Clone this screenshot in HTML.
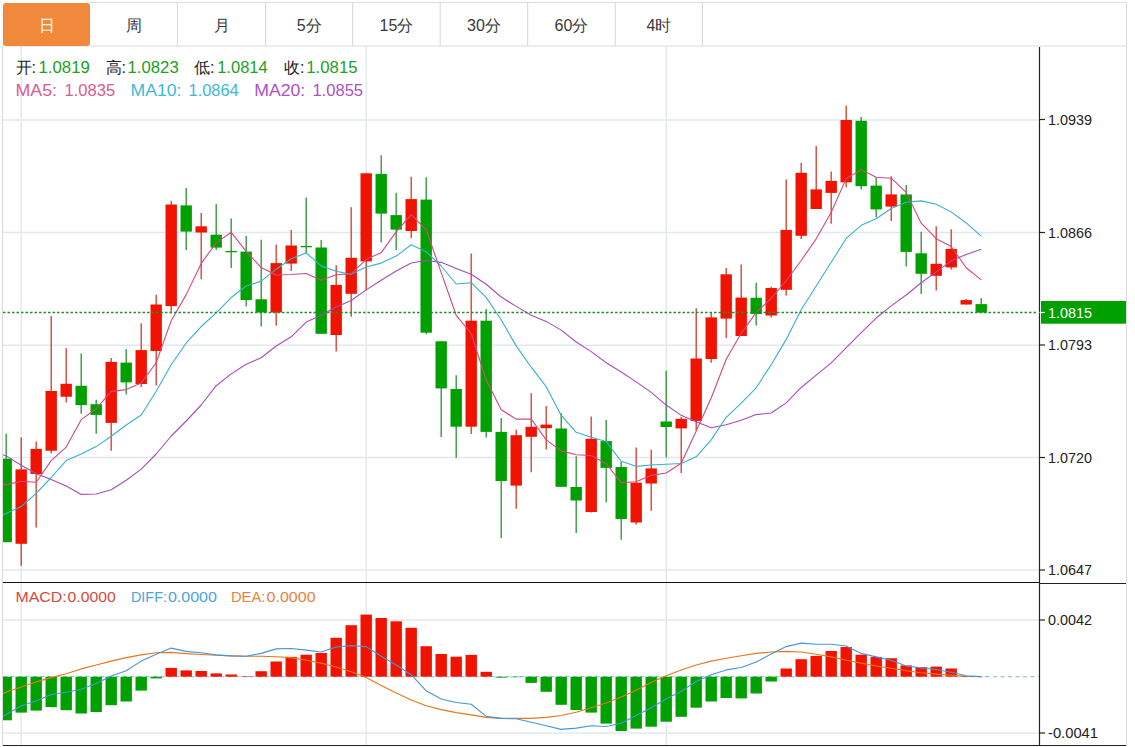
<!DOCTYPE html>
<html><head><meta charset="utf-8">
<style>
html,body{margin:0;padding:0;background:#fff;width:1135px;height:747px;overflow:hidden;}
svg{position:absolute;left:0;top:0;}
text{font-family:"Liberation Sans",sans-serif;}
.ax{font-size:14.5px;fill:#222;}
.tab{font-size:16px;text-anchor:middle;}
.lg{font-size:15px;}
</style></head><body>
<svg width="1135" height="747" viewBox="0 0 1135 747">
<rect x="0" y="0" width="1135" height="747" fill="#fff"/>
<line x1="90" y1="2.5" x2="1126.5" y2="2.5" stroke="#dcdcdc" stroke-width="1.2"/>
<line x1="3" y1="46" x2="1126.5" y2="46" stroke="#dcdcdc" stroke-width="1.2"/>
<line x1="2.5" y1="46" x2="2.5" y2="746" stroke="#dcdcdc" stroke-width="1.2"/>
<line x1="1126.5" y1="2.5" x2="1126.5" y2="746" stroke="#dcdcdc" stroke-width="1.2"/>
<rect x="3" y="3" width="87" height="43" rx="3" fill="#f0893c"/><text x="46.5" y="31" class="tab" fill="#fff">日</text><text x="133.75" y="31" class="tab" fill="#3a3a3a">周</text><line x1="177.5" y1="3" x2="177.5" y2="46" stroke="#dcdcdc" stroke-width="1.2"/><text x="221.55" y="31" class="tab" fill="#3a3a3a">月</text><line x1="265.6" y1="3" x2="265.6" y2="46" stroke="#dcdcdc" stroke-width="1.2"/><text x="309.1" y="31" class="tab" fill="#3a3a3a">5分</text><line x1="352.6" y1="3" x2="352.6" y2="46" stroke="#dcdcdc" stroke-width="1.2"/><text x="396.4" y="31" class="tab" fill="#3a3a3a">15分</text><line x1="440.2" y1="3" x2="440.2" y2="46" stroke="#dcdcdc" stroke-width="1.2"/><text x="483.9" y="31" class="tab" fill="#3a3a3a">30分</text><line x1="527.6" y1="3" x2="527.6" y2="46" stroke="#dcdcdc" stroke-width="1.2"/><text x="571.45" y="31" class="tab" fill="#3a3a3a">60分</text><line x1="615.3" y1="3" x2="615.3" y2="46" stroke="#dcdcdc" stroke-width="1.2"/><text x="658.8499999999999" y="31" class="tab" fill="#3a3a3a">4时</text><line x1="702.4" y1="3" x2="702.4" y2="46" stroke="#dcdcdc" stroke-width="1.2"/>
<line x1="3" y1="120" x2="1039" y2="120" stroke="#e3e8ec" stroke-width="1.4"/>
<line x1="3" y1="232.5" x2="1039" y2="232.5" stroke="#e3e8ec" stroke-width="1.4"/>
<line x1="3" y1="345.2" x2="1039" y2="345.2" stroke="#e3e8ec" stroke-width="1.4"/>
<line x1="3" y1="457.5" x2="1039" y2="457.5" stroke="#e3e8ec" stroke-width="1.4"/>
<line x1="3" y1="570" x2="1039" y2="570" stroke="#e3e8ec" stroke-width="1.4"/>
<line x1="3" y1="620" x2="1039" y2="620" stroke="#e3e8ec" stroke-width="1.4"/>
<line x1="3" y1="733" x2="1039" y2="733" stroke="#e3e8ec" stroke-width="1.4"/>
<line x1="21.2" y1="47" x2="21.2" y2="745" stroke="#e3e8ec" stroke-width="1.4"/>
<line x1="366.2" y1="47" x2="366.2" y2="745" stroke="#e3e8ec" stroke-width="1.4"/>
<line x1="666.2" y1="47" x2="666.2" y2="745" stroke="#e3e8ec" stroke-width="1.4"/>
<defs><clipPath id="cp"><rect x="3" y="47" width="1036" height="535"/></clipPath><clipPath id="cp2"><rect x="3" y="584" width="1036" height="161"/></clipPath></defs>
<g clip-path="url(#cp)">
<line x1="6.20" y1="433.7" x2="6.20" y2="542.2" stroke="#2a9030" stroke-width="1.3"/>
<rect x="0.50" y="458.70" width="11.4" height="83.50" fill="#00a000"/>
<line x1="21.20" y1="437.6" x2="21.20" y2="565.7" stroke="#cf3a28" stroke-width="1.3"/>
<rect x="15.50" y="469.40" width="11.4" height="74.40" fill="#f01400"/>
<line x1="36.20" y1="441.4" x2="36.20" y2="527.4" stroke="#cf3a28" stroke-width="1.3"/>
<rect x="30.50" y="448.90" width="11.4" height="25.10" fill="#f01400"/>
<line x1="51.20" y1="315.9" x2="51.20" y2="453.6" stroke="#cf3a28" stroke-width="1.3"/>
<rect x="45.50" y="391.00" width="11.4" height="59.70" fill="#f01400"/>
<line x1="66.20" y1="348.2" x2="66.20" y2="402.4" stroke="#cf3a28" stroke-width="1.3"/>
<rect x="60.50" y="383.80" width="11.4" height="12.90" fill="#f01400"/>
<line x1="81.20" y1="353.5" x2="81.20" y2="413.8" stroke="#2a9030" stroke-width="1.3"/>
<rect x="75.50" y="385.80" width="11.4" height="19.30" fill="#00a000"/>
<line x1="96.20" y1="399.7" x2="96.20" y2="433.8" stroke="#2a9030" stroke-width="1.3"/>
<rect x="90.50" y="404.20" width="11.4" height="10.70" fill="#00a000"/>
<line x1="111.20" y1="358.0" x2="111.20" y2="450.7" stroke="#cf3a28" stroke-width="1.3"/>
<rect x="105.50" y="361.90" width="11.4" height="61.00" fill="#f01400"/>
<line x1="126.20" y1="348.9" x2="126.20" y2="394.4" stroke="#2a9030" stroke-width="1.3"/>
<rect x="120.50" y="362.60" width="11.4" height="19.80" fill="#00a000"/>
<line x1="141.20" y1="323.3" x2="141.20" y2="387.0" stroke="#cf3a28" stroke-width="1.3"/>
<rect x="135.50" y="350.10" width="11.4" height="33.90" fill="#f01400"/>
<line x1="156.20" y1="294.7" x2="156.20" y2="385.5" stroke="#cf3a28" stroke-width="1.3"/>
<rect x="150.50" y="304.50" width="11.4" height="46.50" fill="#f01400"/>
<line x1="171.20" y1="200.8" x2="171.20" y2="313.2" stroke="#cf3a28" stroke-width="1.3"/>
<rect x="165.50" y="204.50" width="11.4" height="101.60" fill="#f01400"/>
<line x1="186.20" y1="187.9" x2="186.20" y2="250.0" stroke="#2a9030" stroke-width="1.3"/>
<rect x="180.50" y="205.40" width="11.4" height="26.20" fill="#00a000"/>
<line x1="201.20" y1="213.1" x2="201.20" y2="279.3" stroke="#cf3a28" stroke-width="1.3"/>
<rect x="195.50" y="226.30" width="11.4" height="6.20" fill="#f01400"/>
<line x1="216.20" y1="203.9" x2="216.20" y2="250.0" stroke="#2a9030" stroke-width="1.3"/>
<rect x="210.50" y="234.70" width="11.4" height="12.90" fill="#00a000"/>
<line x1="231.20" y1="218.6" x2="231.20" y2="268.0" stroke="#2a9030" stroke-width="1.3"/>
<rect x="225.50" y="250.95" width="11.4" height="1.30" fill="#00a000"/>
<line x1="246.20" y1="236.1" x2="246.20" y2="306.5" stroke="#2a9030" stroke-width="1.3"/>
<rect x="240.50" y="251.60" width="11.4" height="48.40" fill="#00a000"/>
<line x1="261.20" y1="239.8" x2="261.20" y2="326.5" stroke="#2a9030" stroke-width="1.3"/>
<rect x="255.50" y="299.30" width="11.4" height="13.20" fill="#00a000"/>
<line x1="276.20" y1="244.6" x2="276.20" y2="325.8" stroke="#cf3a28" stroke-width="1.3"/>
<rect x="270.50" y="263.10" width="11.4" height="49.40" fill="#f01400"/>
<line x1="291.20" y1="229.9" x2="291.20" y2="271.1" stroke="#cf3a28" stroke-width="1.3"/>
<rect x="285.50" y="245.50" width="11.4" height="18.10" fill="#f01400"/>
<line x1="306.20" y1="197.4" x2="306.20" y2="253.4" stroke="#2a9030" stroke-width="1.3"/>
<rect x="300.50" y="245.95" width="11.4" height="1.30" fill="#00a000"/>
<line x1="321.20" y1="240.1" x2="321.20" y2="333.8" stroke="#2a9030" stroke-width="1.3"/>
<rect x="315.50" y="247.50" width="11.4" height="86.30" fill="#00a000"/>
<line x1="336.20" y1="265.2" x2="336.20" y2="351.5" stroke="#cf3a28" stroke-width="1.3"/>
<rect x="330.50" y="284.90" width="11.4" height="50.10" fill="#f01400"/>
<line x1="351.20" y1="207.2" x2="351.20" y2="316.7" stroke="#cf3a28" stroke-width="1.3"/>
<rect x="345.50" y="257.80" width="11.4" height="36.00" fill="#f01400"/>
<line x1="366.20" y1="173.3" x2="366.20" y2="290.2" stroke="#cf3a28" stroke-width="1.3"/>
<rect x="360.50" y="173.30" width="11.4" height="88.10" fill="#f01400"/>
<line x1="381.20" y1="155.3" x2="381.20" y2="242.5" stroke="#2a9030" stroke-width="1.3"/>
<rect x="375.50" y="173.90" width="11.4" height="39.70" fill="#00a000"/>
<line x1="396.20" y1="192.8" x2="396.20" y2="250.1" stroke="#2a9030" stroke-width="1.3"/>
<rect x="390.50" y="215.10" width="11.4" height="14.50" fill="#00a000"/>
<line x1="411.20" y1="176.8" x2="411.20" y2="238.3" stroke="#cf3a28" stroke-width="1.3"/>
<rect x="405.50" y="199.10" width="11.4" height="31.90" fill="#f01400"/>
<line x1="426.20" y1="177.3" x2="426.20" y2="334.3" stroke="#2a9030" stroke-width="1.3"/>
<rect x="420.50" y="199.60" width="11.4" height="133.10" fill="#00a000"/>
<line x1="441.20" y1="341.3" x2="441.20" y2="437.0" stroke="#2a9030" stroke-width="1.3"/>
<rect x="435.50" y="341.30" width="11.4" height="47.10" fill="#00a000"/>
<line x1="456.20" y1="375.2" x2="456.20" y2="457.7" stroke="#2a9030" stroke-width="1.3"/>
<rect x="450.50" y="389.00" width="11.4" height="37.70" fill="#00a000"/>
<line x1="471.20" y1="253.5" x2="471.20" y2="434.1" stroke="#cf3a28" stroke-width="1.3"/>
<rect x="465.50" y="320.70" width="11.4" height="106.00" fill="#f01400"/>
<line x1="486.20" y1="308.9" x2="486.20" y2="437.4" stroke="#2a9030" stroke-width="1.3"/>
<rect x="480.50" y="320.70" width="11.4" height="111.20" fill="#00a000"/>
<line x1="501.20" y1="418.0" x2="501.20" y2="537.9" stroke="#2a9030" stroke-width="1.3"/>
<rect x="495.50" y="431.90" width="11.4" height="49.10" fill="#00a000"/>
<line x1="516.20" y1="429.7" x2="516.20" y2="508.8" stroke="#cf3a28" stroke-width="1.3"/>
<rect x="510.50" y="435.20" width="11.4" height="50.40" fill="#f01400"/>
<line x1="531.20" y1="393.3" x2="531.20" y2="472.3" stroke="#cf3a28" stroke-width="1.3"/>
<rect x="525.50" y="426.80" width="11.4" height="10.00" fill="#f01400"/>
<line x1="546.20" y1="406.1" x2="546.20" y2="449.6" stroke="#cf3a28" stroke-width="1.3"/>
<rect x="540.50" y="424.60" width="11.4" height="3.60" fill="#f01400"/>
<line x1="561.20" y1="413.2" x2="561.20" y2="486.8" stroke="#2a9030" stroke-width="1.3"/>
<rect x="555.50" y="428.50" width="11.4" height="58.30" fill="#00a000"/>
<line x1="576.20" y1="456.3" x2="576.20" y2="533.0" stroke="#2a9030" stroke-width="1.3"/>
<rect x="570.50" y="487.00" width="11.4" height="13.50" fill="#00a000"/>
<line x1="591.20" y1="416.5" x2="591.20" y2="512.6" stroke="#cf3a28" stroke-width="1.3"/>
<rect x="585.50" y="438.80" width="11.4" height="73.20" fill="#f01400"/>
<line x1="606.20" y1="420.0" x2="606.20" y2="502.5" stroke="#2a9030" stroke-width="1.3"/>
<rect x="600.50" y="441.10" width="11.4" height="26.80" fill="#00a000"/>
<line x1="621.20" y1="461.7" x2="621.20" y2="539.8" stroke="#2a9030" stroke-width="1.3"/>
<rect x="615.50" y="467.00" width="11.4" height="52.00" fill="#00a000"/>
<line x1="636.20" y1="447.6" x2="636.20" y2="524.4" stroke="#cf3a28" stroke-width="1.3"/>
<rect x="630.50" y="482.70" width="11.4" height="39.80" fill="#f01400"/>
<line x1="651.20" y1="449.8" x2="651.20" y2="510.7" stroke="#cf3a28" stroke-width="1.3"/>
<rect x="645.50" y="468.40" width="11.4" height="15.10" fill="#f01400"/>
<line x1="666.20" y1="370.7" x2="666.20" y2="457.5" stroke="#2a9030" stroke-width="1.3"/>
<rect x="660.50" y="421.50" width="11.4" height="5.50" fill="#00a000"/>
<line x1="681.20" y1="416.8" x2="681.20" y2="473.1" stroke="#cf3a28" stroke-width="1.3"/>
<rect x="675.50" y="418.80" width="11.4" height="9.60" fill="#f01400"/>
<line x1="696.20" y1="308.2" x2="696.20" y2="430.8" stroke="#cf3a28" stroke-width="1.3"/>
<rect x="690.50" y="358.50" width="11.4" height="62.40" fill="#f01400"/>
<line x1="711.20" y1="312.5" x2="711.20" y2="362.7" stroke="#cf3a28" stroke-width="1.3"/>
<rect x="705.50" y="317.40" width="11.4" height="41.60" fill="#f01400"/>
<line x1="726.20" y1="267.9" x2="726.20" y2="338.0" stroke="#cf3a28" stroke-width="1.3"/>
<rect x="720.50" y="274.30" width="11.4" height="44.30" fill="#f01400"/>
<line x1="741.20" y1="264.4" x2="741.20" y2="336.0" stroke="#cf3a28" stroke-width="1.3"/>
<rect x="735.50" y="297.60" width="11.4" height="38.40" fill="#f01400"/>
<line x1="756.20" y1="282.7" x2="756.20" y2="325.6" stroke="#2a9030" stroke-width="1.3"/>
<rect x="750.50" y="297.80" width="11.4" height="16.20" fill="#00a000"/>
<line x1="771.20" y1="286.7" x2="771.20" y2="317.4" stroke="#cf3a28" stroke-width="1.3"/>
<rect x="765.50" y="288.00" width="11.4" height="27.50" fill="#f01400"/>
<line x1="786.20" y1="179.5" x2="786.20" y2="295.5" stroke="#cf3a28" stroke-width="1.3"/>
<rect x="780.50" y="229.90" width="11.4" height="59.90" fill="#f01400"/>
<line x1="801.20" y1="162.7" x2="801.20" y2="239.0" stroke="#cf3a28" stroke-width="1.3"/>
<rect x="795.50" y="172.80" width="11.4" height="63.00" fill="#f01400"/>
<line x1="816.20" y1="146.1" x2="816.20" y2="209.0" stroke="#cf3a28" stroke-width="1.3"/>
<rect x="810.50" y="189.40" width="11.4" height="19.60" fill="#f01400"/>
<line x1="831.20" y1="171.5" x2="831.20" y2="223.7" stroke="#cf3a28" stroke-width="1.3"/>
<rect x="825.50" y="180.90" width="11.4" height="12.00" fill="#f01400"/>
<line x1="846.20" y1="105.6" x2="846.20" y2="187.3" stroke="#cf3a28" stroke-width="1.3"/>
<rect x="840.50" y="120.00" width="11.4" height="62.30" fill="#f01400"/>
<line x1="861.20" y1="117.1" x2="861.20" y2="189.5" stroke="#2a9030" stroke-width="1.3"/>
<rect x="855.50" y="120.80" width="11.4" height="65.40" fill="#00a000"/>
<line x1="876.20" y1="177.2" x2="876.20" y2="217.2" stroke="#2a9030" stroke-width="1.3"/>
<rect x="870.50" y="185.60" width="11.4" height="23.80" fill="#00a000"/>
<line x1="891.20" y1="176.3" x2="891.20" y2="220.9" stroke="#cf3a28" stroke-width="1.3"/>
<rect x="885.50" y="194.40" width="11.4" height="12.20" fill="#f01400"/>
<line x1="906.20" y1="185.0" x2="906.20" y2="266.4" stroke="#2a9030" stroke-width="1.3"/>
<rect x="900.50" y="194.50" width="11.4" height="57.40" fill="#00a000"/>
<line x1="921.20" y1="231.8" x2="921.20" y2="294.1" stroke="#2a9030" stroke-width="1.3"/>
<rect x="915.50" y="253.30" width="11.4" height="20.50" fill="#00a000"/>
<line x1="936.20" y1="226.2" x2="936.20" y2="290.5" stroke="#cf3a28" stroke-width="1.3"/>
<rect x="930.50" y="263.80" width="11.4" height="12.00" fill="#f01400"/>
<line x1="951.20" y1="229.2" x2="951.20" y2="269.4" stroke="#cf3a28" stroke-width="1.3"/>
<rect x="945.50" y="248.90" width="11.4" height="18.50" fill="#f01400"/>
<line x1="966.20" y1="298.9" x2="966.20" y2="304.5" stroke="#cf3a28" stroke-width="1.3"/>
<rect x="960.50" y="300.10" width="11.4" height="4.40" fill="#f01400"/>
<line x1="981.20" y1="297.9" x2="981.20" y2="312.6" stroke="#2a9030" stroke-width="1.3"/>
<rect x="975.50" y="304.10" width="11.4" height="8.50" fill="#00a000"/>
<polyline points="2,454.4 6.20,455.90 21.20,465.30 36.20,473.80 51.20,479.40 66.20,485.90 81.20,494.40 96.20,494.00 111.20,489.70 126.20,480.30 141.20,469.10 156.20,454.00 171.20,436.00 186.20,421.00 201.20,405.00 216.20,385.70 231.20,373.90 246.20,364.30 261.20,357.80 276.20,346.00 291.20,336.84 306.20,322.06 321.20,315.28 336.20,307.08 351.20,300.43 366.20,289.90 381.20,280.32 396.20,271.06 411.20,262.92 426.20,260.44 441.20,262.35 456.20,268.46 471.20,274.27 486.20,284.28 501.20,297.02 516.20,306.40 531.20,315.16 546.20,321.39 561.20,330.11 576.20,341.98 591.20,351.64 606.20,362.71 621.20,371.97 636.20,381.86 651.20,392.38 666.20,405.07 681.20,415.33 696.20,421.77 711.20,427.69 726.20,424.77 741.20,420.23 756.20,414.59 771.20,412.96 786.20,402.86 801.20,387.45 816.20,375.16 831.20,362.87 846.20,347.63 861.20,332.61 876.20,318.05 891.20,305.83 906.20,295.03 921.20,282.77 936.20,271.82 951.20,260.85 966.20,254.51 981.20,249.20" fill="none" stroke="#a54db8" stroke-width="1.1" stroke-linejoin="round"/>
<polyline points="2,515.0 6.20,513.50 21.20,506.60 36.20,493.40 51.20,477.50 66.20,460.60 81.20,454.00 96.20,446.60 111.20,436.30 126.20,425.00 141.20,414.97 156.20,391.20 171.20,364.71 186.20,342.98 201.20,326.51 216.20,312.89 231.20,297.54 246.20,286.05 261.20,281.11 276.20,269.18 291.20,258.72 306.20,252.93 321.20,265.86 336.20,271.19 351.20,274.34 366.20,266.91 381.20,263.11 396.20,256.07 411.20,244.73 426.20,251.69 441.20,265.98 456.20,283.99 471.20,282.68 486.20,297.38 501.20,319.70 516.20,345.89 531.20,367.21 546.20,386.71 561.20,415.48 576.20,432.26 591.20,437.30 606.20,441.42 621.20,461.25 636.20,466.33 651.20,465.07 666.20,464.25 681.20,463.45 696.20,456.84 711.20,439.90 726.20,417.28 741.20,403.16 756.20,387.77 771.20,364.67 786.20,339.39 801.20,309.83 816.20,286.07 831.20,262.28 846.20,238.43 861.20,225.31 876.20,218.82 891.20,208.50 906.20,202.29 921.20,200.87 936.20,204.26 951.20,211.87 966.20,222.94 981.20,236.11" fill="none" stroke="#36b0cc" stroke-width="1.1" stroke-linejoin="round"/>
<polyline points="2,484.0 6.20,484.60 21.20,481.30 36.20,482.20 51.20,460.60 66.20,447.06 81.20,419.64 96.20,408.74 111.20,391.34 126.20,389.62 141.20,382.88 156.20,362.76 171.20,320.68 186.20,294.62 201.20,263.40 216.20,242.90 231.20,232.32 246.20,251.42 261.20,267.60 276.20,274.96 291.20,274.54 306.20,273.54 321.20,280.30 336.20,274.78 351.20,273.72 366.20,259.28 381.20,252.68 396.20,231.84 411.20,214.68 426.20,229.66 441.20,272.68 456.20,315.30 471.20,333.52 486.20,380.08 501.20,409.74 516.20,419.10 531.20,419.12 546.20,439.90 561.20,450.88 576.20,454.78 591.20,455.50 606.20,463.72 621.20,482.60 636.20,481.78 651.20,475.36 666.20,473.00 681.20,463.18 696.20,431.08 711.20,398.02 726.20,359.20 741.20,333.32 756.20,312.36 771.20,298.26 786.20,280.76 801.20,260.46 816.20,238.82 831.20,212.20 846.20,178.60 861.20,169.86 876.20,177.18 891.20,178.18 906.20,192.38 921.20,223.14 936.20,238.66 951.20,246.56 966.20,267.70 981.20,279.84" fill="none" stroke="#d4487e" stroke-width="1.1" stroke-linejoin="round"/>
</g>
<line x1="3" y1="312.5" x2="1037" y2="312.5" stroke="#1f9128" stroke-width="1.3" stroke-dasharray="2.5,2"/>
<g clip-path="url(#cp2)">
<line x1="3" y1="676.7" x2="1039" y2="676.7" stroke="#9cc4dc" stroke-width="1.2" stroke-dasharray="4,3.5"/>
<rect x="0.50" y="676.70" width="11.4" height="43.60" fill="#00a000"/>
<rect x="15.50" y="676.70" width="11.4" height="35.90" fill="#00a000"/>
<rect x="30.50" y="676.70" width="11.4" height="33.90" fill="#00a000"/>
<rect x="45.50" y="676.70" width="11.4" height="30.40" fill="#00a000"/>
<rect x="60.50" y="676.70" width="11.4" height="33.50" fill="#00a000"/>
<rect x="75.50" y="676.70" width="11.4" height="36.80" fill="#00a000"/>
<rect x="90.50" y="676.70" width="11.4" height="35.30" fill="#00a000"/>
<rect x="105.50" y="676.70" width="11.4" height="28.50" fill="#00a000"/>
<rect x="120.50" y="676.70" width="11.4" height="24.80" fill="#00a000"/>
<rect x="135.50" y="676.70" width="11.4" height="13.90" fill="#00a000"/>
<rect x="150.50" y="676.70" width="11.4" height="1.70" fill="#00a000"/>
<rect x="165.50" y="667.90" width="11.4" height="8.80" fill="#f01400"/>
<rect x="180.50" y="670.40" width="11.4" height="6.30" fill="#f01400"/>
<rect x="195.50" y="671.00" width="11.4" height="5.70" fill="#f01400"/>
<rect x="210.50" y="673.40" width="11.4" height="3.30" fill="#f01400"/>
<rect x="225.50" y="674.50" width="11.4" height="2.20" fill="#f01400"/>
<rect x="240.50" y="676.20" width="11.4" height="0.50" fill="#f01400"/>
<rect x="255.50" y="671.20" width="11.4" height="5.50" fill="#f01400"/>
<rect x="270.50" y="661.50" width="11.4" height="15.20" fill="#f01400"/>
<rect x="285.50" y="656.90" width="11.4" height="19.80" fill="#f01400"/>
<rect x="300.50" y="654.70" width="11.4" height="22.00" fill="#f01400"/>
<rect x="315.50" y="653.00" width="11.4" height="23.70" fill="#f01400"/>
<rect x="330.50" y="637.80" width="11.4" height="38.90" fill="#f01400"/>
<rect x="345.50" y="625.20" width="11.4" height="51.50" fill="#f01400"/>
<rect x="360.50" y="614.60" width="11.4" height="62.10" fill="#f01400"/>
<rect x="375.50" y="618.00" width="11.4" height="58.70" fill="#f01400"/>
<rect x="390.50" y="621.30" width="11.4" height="55.40" fill="#f01400"/>
<rect x="405.50" y="627.80" width="11.4" height="48.90" fill="#f01400"/>
<rect x="420.50" y="646.20" width="11.4" height="30.50" fill="#f01400"/>
<rect x="435.50" y="654.00" width="11.4" height="22.70" fill="#f01400"/>
<rect x="450.50" y="656.70" width="11.4" height="20.00" fill="#f01400"/>
<rect x="465.50" y="654.90" width="11.4" height="21.80" fill="#f01400"/>
<rect x="480.50" y="671.80" width="11.4" height="4.90" fill="#f01400"/>
<rect x="495.50" y="676.70" width="11.4" height="0.90" fill="#00a000"/>
<rect x="510.50" y="676.70" width="11.4" height="0.50" fill="#00a000"/>
<rect x="525.50" y="676.70" width="11.4" height="6.20" fill="#00a000"/>
<rect x="540.50" y="676.70" width="11.4" height="15.10" fill="#00a000"/>
<rect x="555.50" y="676.70" width="11.4" height="28.10" fill="#00a000"/>
<rect x="570.50" y="676.70" width="11.4" height="33.30" fill="#00a000"/>
<rect x="585.50" y="676.70" width="11.4" height="35.90" fill="#00a000"/>
<rect x="600.50" y="676.70" width="11.4" height="46.90" fill="#00a000"/>
<rect x="615.50" y="676.70" width="11.4" height="54.30" fill="#00a000"/>
<rect x="630.50" y="676.70" width="11.4" height="51.90" fill="#00a000"/>
<rect x="645.50" y="676.70" width="11.4" height="50.00" fill="#00a000"/>
<rect x="660.50" y="676.70" width="11.4" height="45.00" fill="#00a000"/>
<rect x="675.50" y="676.70" width="11.4" height="40.10" fill="#00a000"/>
<rect x="690.50" y="676.70" width="11.4" height="31.00" fill="#00a000"/>
<rect x="705.50" y="676.70" width="11.4" height="24.80" fill="#00a000"/>
<rect x="720.50" y="676.70" width="11.4" height="21.30" fill="#00a000"/>
<rect x="735.50" y="676.70" width="11.4" height="21.70" fill="#00a000"/>
<rect x="750.50" y="676.70" width="11.4" height="16.80" fill="#00a000"/>
<rect x="765.50" y="676.70" width="11.4" height="4.80" fill="#00a000"/>
<rect x="780.50" y="668.50" width="11.4" height="8.20" fill="#f01400"/>
<rect x="795.50" y="659.20" width="11.4" height="17.50" fill="#f01400"/>
<rect x="810.50" y="655.90" width="11.4" height="20.80" fill="#f01400"/>
<rect x="825.50" y="651.00" width="11.4" height="25.70" fill="#f01400"/>
<rect x="840.50" y="647.00" width="11.4" height="29.70" fill="#f01400"/>
<rect x="855.50" y="654.70" width="11.4" height="22.00" fill="#f01400"/>
<rect x="870.50" y="656.90" width="11.4" height="19.80" fill="#f01400"/>
<rect x="885.50" y="658.20" width="11.4" height="18.50" fill="#f01400"/>
<rect x="900.50" y="665.40" width="11.4" height="11.30" fill="#f01400"/>
<rect x="915.50" y="667.10" width="11.4" height="9.60" fill="#f01400"/>
<rect x="930.50" y="666.60" width="11.4" height="10.10" fill="#f01400"/>
<rect x="945.50" y="668.50" width="11.4" height="8.20" fill="#f01400"/>
<rect x="960.50" y="676.00" width="11.4" height="0.70" fill="#f01400"/>
<rect x="975.50" y="676.50" width="11.4" height="0.20" fill="#f01400"/>
<polyline points="2,694.1 6.20,692.00 21.20,686.90 36.20,681.90 51.20,677.60 66.20,673.70 81.20,668.90 96.20,665.00 111.20,661.10 126.20,657.60 141.20,654.90 156.20,652.80 171.20,652.40 186.20,653.60 201.20,654.50 216.20,655.30 231.20,655.90 246.20,656.30 261.20,656.30 276.20,656.70 291.20,657.60 306.20,660.20 321.20,663.10 336.20,667.00 351.20,671.80 366.20,677.60 381.20,685.40 396.20,693.10 411.20,699.90 426.20,705.80 441.20,709.60 456.20,712.60 471.20,714.90 486.20,717.40 501.20,718.40 516.20,718.40 531.20,718.40 546.20,717.40 561.20,715.50 576.20,712.20 591.20,707.70 606.20,702.90 621.20,697.00 636.20,690.20 651.20,682.50 666.20,675.70 681.20,669.90 696.20,665.00 711.20,661.10 726.20,658.20 741.20,655.70 756.20,653.40 771.20,652.00 786.20,651.40 801.20,652.00 816.20,654.30 831.20,656.90 846.20,660.20 861.20,663.10 876.20,666.00 891.20,668.30 906.20,670.80 921.20,672.80 936.20,674.10 951.20,675.30 966.20,676.20 981.20,676.70" fill="none" stroke="#e8761c" stroke-width="1.1" stroke-linejoin="round"/>
<polyline points="2,716.5 6.20,714.50 21.20,705.80 36.20,700.90 51.20,694.50 66.20,692.20 81.20,689.30 96.20,683.40 111.20,676.10 126.20,670.80 141.20,661.10 156.20,654.30 171.20,648.10 186.20,651.40 201.20,652.80 216.20,654.90 231.20,655.90 246.20,656.30 261.20,653.40 276.20,648.90 291.20,648.50 306.20,650.10 321.20,652.00 336.20,647.00 351.20,645.60 366.20,646.60 381.20,656.30 396.20,665.00 411.20,674.70 426.20,690.80 441.20,699.00 456.20,702.50 471.20,704.20 486.20,716.40 501.20,718.40 516.20,718.80 531.20,722.30 546.20,725.80 561.20,729.40 576.20,728.10 591.20,725.80 606.20,726.50 621.20,723.20 636.20,715.50 651.20,707.70 666.20,699.00 681.20,691.20 696.20,681.50 711.20,674.70 726.20,669.90 741.20,667.50 756.20,662.10 771.20,654.00 786.20,646.60 801.20,643.10 816.20,644.20 831.20,644.20 846.20,646.00 861.20,653.40 876.20,656.90 891.20,660.20 906.20,666.00 921.20,667.90 936.20,669.50 951.20,672.20 966.20,675.70 981.20,676.60" fill="none" stroke="#4596da" stroke-width="1.1" stroke-linejoin="round"/>
</g>
<line x1="1039.5" y1="47" x2="1039.5" y2="746" stroke="#222" stroke-width="1.2"/>
<line x1="3" y1="582.5" x2="1039.5" y2="582.5" stroke="#111" stroke-width="1.2"/>
<line x1="1039.5" y1="583.5" x2="1126" y2="583.5" stroke="#222" stroke-width="1.2"/>
<line x1="3" y1="745.5" x2="1126" y2="745.5" stroke="#222" stroke-width="1.2"/>
<line x1="1039.5" y1="119.5" x2="1045" y2="119.5" stroke="#222" stroke-width="1.2"/>
<text x="1048" y="124.7" class="ax" textLength="44" lengthAdjust="spacingAndGlyphs">1.0939</text>
<line x1="1039.5" y1="232.5" x2="1045" y2="232.5" stroke="#222" stroke-width="1.2"/>
<text x="1048" y="237.7" class="ax" textLength="44" lengthAdjust="spacingAndGlyphs">1.0866</text>
<line x1="1039.5" y1="345" x2="1045" y2="345" stroke="#222" stroke-width="1.2"/>
<text x="1048" y="350.2" class="ax" textLength="44" lengthAdjust="spacingAndGlyphs">1.0793</text>
<line x1="1039.5" y1="457.5" x2="1045" y2="457.5" stroke="#222" stroke-width="1.2"/>
<text x="1048" y="462.7" class="ax" textLength="44" lengthAdjust="spacingAndGlyphs">1.0720</text>
<line x1="1039.5" y1="570" x2="1045" y2="570" stroke="#222" stroke-width="1.2"/>
<text x="1048" y="575.2" class="ax" textLength="44" lengthAdjust="spacingAndGlyphs">1.0647</text>
<line x1="1039.5" y1="620" x2="1045" y2="620" stroke="#222" stroke-width="1.2"/>
<text x="1048" y="625.2" class="ax" textLength="44" lengthAdjust="spacingAndGlyphs">0.0042</text>
<line x1="1039.5" y1="733" x2="1045" y2="733" stroke="#222" stroke-width="1.2"/>
<text x="1048" y="738.2" class="ax" textLength="50" lengthAdjust="spacingAndGlyphs">-0.0041</text>
<rect x="1041" y="301" width="85" height="22.7" fill="#00a000"/>
<line x1="1039.5" y1="312.5" x2="1045" y2="312.5" stroke="#fff" stroke-width="1.2"/>
<text x="1048" y="317.7" class="ax" style="fill:#fff" textLength="44" lengthAdjust="spacingAndGlyphs">1.0815</text>
<text x="15.5" y="73.2" fill="#222" style="font-size:16px">开:</text>\n<text x="105.5" y="73.2" fill="#222" style="font-size:16px">高:</text>\n<text x="194" y="73.2" fill="#222" style="font-size:16px">低:</text>\n<text x="283.9" y="73.2" fill="#222" style="font-size:16px">收:</text>\n<text x="38.5" y="73.2" fill="#21a121" style="font-size:16.5px" textLength="51.4" lengthAdjust="spacingAndGlyphs">1.0819</text>\n<text x="127.5" y="73.2" fill="#21a121" style="font-size:16.5px" textLength="51.2" lengthAdjust="spacingAndGlyphs">1.0823</text>\n<text x="217.2" y="73.2" fill="#21a121" style="font-size:16.5px" textLength="50.5" lengthAdjust="spacingAndGlyphs">1.0814</text>\n<text x="306.3" y="73.2" fill="#21a121" style="font-size:16.5px" textLength="51.2" lengthAdjust="spacingAndGlyphs">1.0815</text>\n<text x="15.5" y="96.0" fill="#dc5a8c" style="font-size:16.5px" textLength="41.5" lengthAdjust="spacingAndGlyphs">MA5:</text>\n<text x="64.5" y="96.0" fill="#dc5a8c" style="font-size:16.5px" textLength="50.6" lengthAdjust="spacingAndGlyphs">1.0835</text>\n<text x="130.5" y="96.0" fill="#3cb9d6" style="font-size:16.5px" textLength="50.9" lengthAdjust="spacingAndGlyphs">MA10:</text>\n<text x="188.5" y="96.0" fill="#3cb9d6" style="font-size:16.5px" textLength="50.2" lengthAdjust="spacingAndGlyphs">1.0864</text>\n<text x="254.2" y="96.0" fill="#ac52c0" style="font-size:16.5px" textLength="51.1" lengthAdjust="spacingAndGlyphs">MA20:</text>\n<text x="312.4" y="96.0" fill="#ac52c0" style="font-size:16.5px" textLength="50.7" lengthAdjust="spacingAndGlyphs">1.0855</text>\n<text x="15.5" y="601.9" fill="#d44a3c" style="font-size:15.5px" textLength="51.2" lengthAdjust="spacingAndGlyphs">MACD:</text>\n<text x="67.6" y="601.9" fill="#d44a3c" style="font-size:15.5px" textLength="48.2" lengthAdjust="spacingAndGlyphs">0.0000</text>\n<text x="131.0" y="601.9" fill="#4ba3e3" style="font-size:15.5px" textLength="35.9" lengthAdjust="spacingAndGlyphs">DIFF:</text>\n<text x="167.9" y="601.9" fill="#4ba3e3" style="font-size:15.5px" textLength="49.0" lengthAdjust="spacingAndGlyphs">0.0000</text>\n<text x="230.9" y="601.9" fill="#e8823a" style="font-size:15.5px" textLength="34.6" lengthAdjust="spacingAndGlyphs">DEA:</text>\n<text x="266.6" y="601.9" fill="#e8823a" style="font-size:15.5px" textLength="49.0" lengthAdjust="spacingAndGlyphs">0.0000</text>
</svg>
</body></html>
